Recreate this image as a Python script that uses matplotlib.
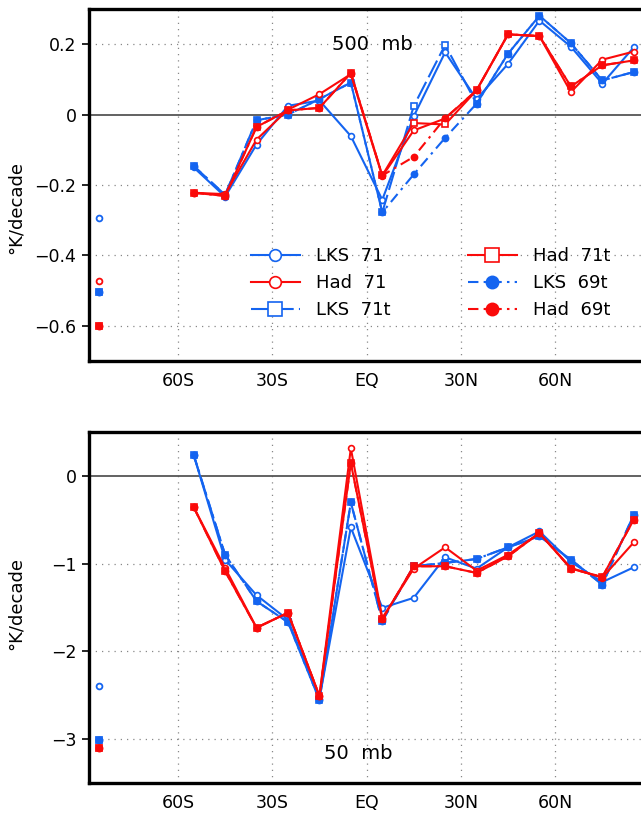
import numpy as np
import matplotlib.pyplot as plt

# latitude bands (10 deg) and the global-mean position on the left
lat = [-55, -45, -35, -25, -15, -5, 5, 15, 25, 35, 45, 55, 65, 75, 85]
glob_lat = [-85]

xticks = [-60, -30, 0, 30, 60]
xlabels = ["60S", "30S", "EQ", "30N", "60N"]

# 500 mb trends (K/decade)
lks71_500 = [-0.150, -0.233, -0.085, 0.025, 0.040, -0.061, -0.242, -0.005, 0.177, 0.044, 0.144, 0.267, 0.193, 0.088, 0.191]
had71_500 = [-0.222, -0.226, -0.071, 0.014, 0.058, 0.115, -0.175, -0.045, -0.011, 0.069, 0.228, 0.223, 0.064, 0.156, 0.179]
lks71t_500 = [-0.146, -0.228, -0.016, 0.000, 0.044, 0.091, -0.278, 0.024, 0.198, 0.031, 0.173, 0.281, 0.203, 0.097, 0.121]
had71t_500 = [-0.222, -0.231, -0.035, 0.012, 0.019, 0.118, -0.173, -0.024, -0.028, 0.069, 0.228, 0.223, 0.080, 0.140, 0.154]
lks69t_500 = [-0.146, -0.228, -0.016, 0.000, 0.044, 0.091, -0.278, -0.170, -0.066, 0.031, 0.173, 0.281, 0.203, 0.097, 0.121]
had69t_500 = [-0.222, -0.231, -0.035, 0.012, 0.019, 0.118, -0.173, -0.120, -0.010, 0.069, 0.228, 0.223, 0.080, 0.140, 0.154]
# global means, order: LKS 71, LKS 71t, LKS 69t, Had 71, Had 71t, Had 69t
glob_500 = [-0.295, -0.505, -0.505, -0.474, -0.601, -0.601]

# 50 mb trends (K/decade)
lks71_50 = [0.239, -0.955, -1.360, -1.640, -2.540, -0.587, -1.504, -1.390, -0.928, -1.057, -0.814, -0.633, -0.980, -1.210, -1.042]
had71_50 = [-0.356, -1.050, -1.730, -1.560, -2.508, 0.314, -1.620, -1.057, -0.814, -1.080, -0.900, -0.652, -1.050, -1.160, -0.758]
lks71t_50 = [0.239, -0.898, -1.428, -1.667, -2.553, -0.303, -1.655, -1.030, -0.992, -0.947, -0.814, -0.689, -0.955, -1.239, -0.443]
had71t_50 = [-0.356, -1.087, -1.731, -1.560, -2.508, 0.144, -1.636, -1.030, -1.030, -1.106, -0.917, -0.652, -1.057, -1.152, -0.500]
lks69t_50 = lks71t_50
had69t_50 = had71t_50
glob_50 = [-2.394, -3.008, -3.008, np.nan, -3.102, -3.102]

names = ["LKS  71", "LKS  71t", "LKS  69t", "Had  71", "Had  71t", "Had  69t"]
blue = "#1464f0"
red = "#fa0a0a"
colors = [blue, blue, blue, red, red, red]
styles = ["-", (0, (9, 2.5)), (0, (5, 2.5, 1.2, 2.5)), "-", "-", (0, (5, 2.5, 1.2, 2.5))]
markers = ["o", "s", "o", "o", "s", "o"]
mfill = ["white", "white", None, "white", "white", None]
msize = [4.2, 4.8, 4.4, 4.2, 4.8, 4.4]

plt.rcParams['font.family'] = 'DejaVu Sans'
fig = plt.figure(figsize=(6.41, 8.15), dpi=100)

W = 641.0
H = 815.0
x_left_px = 89.0
px_per_deg = 94.3 / 30.0
xlim = (-88.3, 90.0)
ax_w = (xlim[1] - xlim[0]) * px_per_deg / W

ax1 = fig.add_axes([x_left_px / W, 1 - 361 / H, ax_w, 352 / H])
ax2 = fig.add_axes([x_left_px / W, 1 - 783 / H, ax_w, 351 / H])


def draw(ax, series, glob, ylim, yticks, ylabels):
    handles = []
    for i, y in enumerate(series):
        mfc = mfill[i] if mfill[i] else colors[i]
        z = 3 + i * 0.1 + (1 if colors[i] == red else 0)
        h, = ax.plot(lat, y, color=colors[i], ls=styles[i], lw=1.5,
                     marker=markers[i], ms=msize[i], mfc=mfc, mec=colors[i],
                     mew=1.2, label=names[i], zorder=z)
        ax.plot(glob_lat, [glob[i]], ls="none", marker=markers[i], ms=msize[i],
                mfc=mfc, mec=colors[i], mew=1.3, zorder=z)
        handles.append(h)
    ax.set_xlim(*xlim)
    ax.set_ylim(*ylim)
    ax.axhline(0, color="#555555", lw=1.3, zorder=2)
    for yt in yticks:
        if yt != 0:
            ax.axhline(yt, color="#888888", lw=0.9, ls=(0, (1, 4)), zorder=1)
    for xt in xticks:
        ax.axvline(xt, color="#888888", lw=0.9, ls=(0, (1, 4)), zorder=1)
    ax.set_xticks(xticks)
    ax.set_xticklabels(xlabels, fontsize=12.5)
    ax.set_yticks(yticks)
    ax.set_yticklabels(ylabels, fontsize=12.5)
    ax.tick_params(axis="x", length=0, pad=8)
    ax.tick_params(axis="y", length=5, width=1.2, direction="out", pad=4)
    for s in ax.spines.values():
        s.set_linewidth(2.4)
    ax.set_ylabel("°K/decade", fontsize=13, labelpad=6)
    return handles


h1 = draw(ax1, [lks71_500, lks71t_500, lks69t_500, had71_500, had71t_500, had69t_500],
          glob_500, (-0.7, 0.3), [0.2, 0, -0.2, -0.4, -0.6],
          ["0.2", "0", "\u22120.2", "\u22120.4", "\u22120.6"])
draw(ax2, [lks71_50, lks71t_50, lks69t_50, had71_50, had71t_50, had69t_50],
     glob_50, (-3.5, 0.5), [0, -1, -2, -3],
     ["0", "\u22121", "\u22122", "\u22123"])

ax1.yaxis.set_label_coords(-0.115, 0.435, transform=ax1.transAxes)
ax2.yaxis.set_label_coords(-0.115, 0.51, transform=ax2.transAxes)

ax1.text(2, 0.2, "500  mb", ha="center", va="center", fontsize=14, zorder=5)
ax2.text(-2.5, -3.16, "50  mb", ha="center", va="center", fontsize=14, zorder=5)

order = [0, 3, 1, 4, 2, 5]
leg = ax1.legend([h1[k] for k in order], [names[k] for k in order], ncol=2,
                 loc="upper left", bbox_to_anchor=(0.26, 0.37), frameon=False,
                 fontsize=13, handlelength=2.7, markerscale=2.0,
                 columnspacing=4.3, labelspacing=0.5, handletextpad=0.9)

fig.savefig("out.png", dpi=100)
